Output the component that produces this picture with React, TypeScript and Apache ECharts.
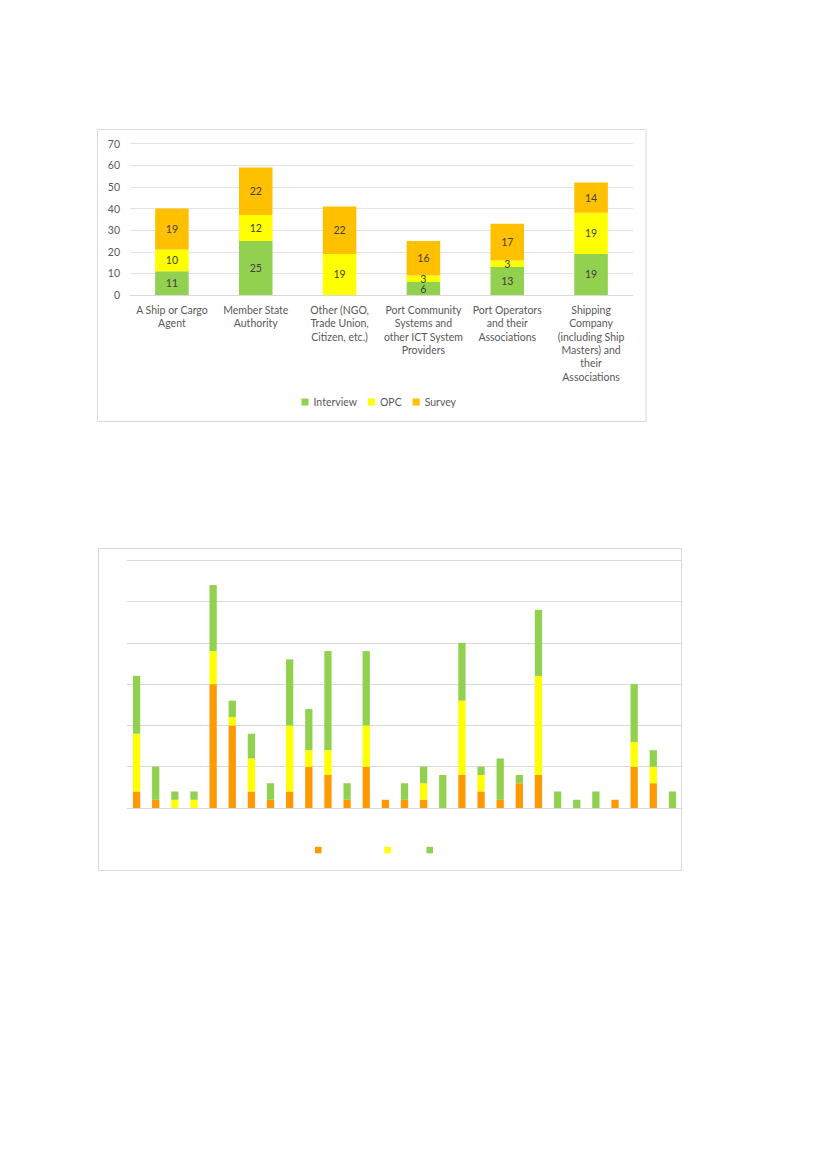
import React, { useEffect, useRef } from "react";
import * as echarts from "echarts";

// ---- Chart 1 data ----
const categories1 = [
  "A Ship or Cargo\nAgent",
  "Member State\nAuthority",
  "Other (NGO,\nTrade Union,\nCitizen, etc.)",
  "Port Community\nSystems and\nother ICT System\nProviders",
  "Port Operators\nand their\nAssociations",
  "Shipping\nCompany\n(including Ship\nMasters) and\ntheir\nAssociations",
];
const interview1 = [11, 25, null, 6, 13, 19];
const opc1 = [10, 12, 19, 3, 3, 19];
const survey1 = [19, 22, 22, 16, 17, 14];
const yTicks1 = { min: 0, max: 70, interval: 10 };

// ---- Chart 2 data ----
const categories2 = [
  "1", "2", "3", "4", "5", "6", "7", "8", "9", "10",
  "11", "12", "13", "14", "15", "16", "17", "18", "19", "20",
  "21", "22", "23", "24", "25", "26", "27", "28", "29",
];
const orange2 = [2, 1, 0, 0, 15, 10, 2, 1, 2, 5, 4, 1, 5, 1, 1, 1, 0, 4, 2, 1, 3, 4, 0, 0, 0, 1, 5, 3, 0];
const yellow2 = [7, 0, 1, 1, 4, 1, 4, 0, 8, 2, 3, 0, 5, 0, 0, 2, 0, 9, 2, 0, 0, 12, 0, 0, 0, 0, 3, 2, 0];
const green2 = [7, 4, 1, 1, 8, 2, 3, 2, 8, 5, 12, 2, 9, 0, 2, 2, 4, 7, 1, 5, 1, 8, 2, 1, 2, 0, 7, 2, 2];
const yTicks2 = { min: 0, max: 30, interval: 5 };

const FONT = "Lato, 'DejaVu Sans', sans-serif";
const GREEN = "#92D050";
const YELLOW = "#FFFF00";
const AMBER = "#FFC000";
const ORANGE = "#FF9900";

export default function App() {
  const ref = useRef<HTMLDivElement>(null);

  useEffect(() => {
    if (!ref.current) return;
    const chart = echarts.init(ref.current, undefined, { renderer: "svg" });

    const label1 = {
      show: true,
      position: "inside",
      color: "#404040",
      fontSize: 10.5,
      fontFamily: FONT,
    };

    const legend2Common = {
      top: 841.8,
      icon: "rect",
      itemWidth: 6.5,
      itemHeight: 6.5,
      formatter: () => "",
      selectedMode: false,
    };

    const option: any = {
      animation: false,
      backgroundColor: "#ffffff",
      textStyle: { fontFamily: FONT },
      graphic: [
        {
          type: "rect",
          silent: true,
          shape: { x: 97.5, y: 129.5, width: 548.5, height: 292 },
          style: { fill: "none", stroke: "#D9D9D9", lineWidth: 1 },
        },
        {
          type: "rect",
          silent: true,
          shape: { x: 98.5, y: 548.5, width: 583, height: 322 },
          style: { fill: "none", stroke: "#D9D9D9", lineWidth: 1 },
        },
      ],
      grid: [
        { left: 130, top: 143.7, width: 503, height: 151.3, containLabel: false },
        { left: 127, top: 560.3, width: 555, height: 247.7, containLabel: false },
      ],
      legend: [
        {
          data: ["Interview", "OPC", "Survey"],
          left: 296.5,
          top: 391.5,
          icon: "rect",
          itemWidth: 7,
          itemHeight: 7,
          itemGap: 11,
          textStyle: { color: "#595959", fontSize: 10.5, fontFamily: FONT },
          selectedMode: false,
        },
        { ...legend2Common, data: ["Survey (chart 2)"], left: 310 },
        { ...legend2Common, data: ["OPC (chart 2)"], left: 379.3 },
        { ...legend2Common, data: ["Interview (chart 2)"], left: 421.5 },
      ],
      xAxis: [
        {
          gridIndex: 0,
          type: "category",
          data: categories1,
          axisLine: { show: true, lineStyle: { color: "#D9D9D9" } },
          axisTick: { show: false },
          axisLabel: {
            interval: 0,
            color: "#595959",
            fontSize: 10.5,
            fontFamily: FONT,
            lineHeight: 13.4,
            margin: 8,
          },
        },
        {
          gridIndex: 1,
          type: "category",
          data: categories2,
          axisLine: { show: true, lineStyle: { color: "#D9D9D9" } },
          axisTick: { show: false },
          axisLabel: { show: false },
        },
      ],
      yAxis: [
        {
          gridIndex: 0,
          type: "value",
          min: yTicks1.min,
          max: yTicks1.max,
          interval: yTicks1.interval,
          axisLine: { show: false },
          axisTick: { show: false },
          axisLabel: { color: "#595959", fontSize: 10.5, fontFamily: FONT, margin: 10 },
          splitLine: { lineStyle: { color: "#E3E3E3", width: 1 } },
        },
        {
          gridIndex: 1,
          type: "value",
          min: yTicks2.min,
          max: yTicks2.max,
          interval: yTicks2.interval,
          axisLine: { show: false },
          axisTick: { show: false },
          axisLabel: { show: false },
          splitLine: { lineStyle: { color: "#D9D9D9", width: 1.2 } },
        },
      ],
      series: [
        {
          name: "Interview",
          type: "bar",
          stack: "c1",
          xAxisIndex: 0,
          yAxisIndex: 0,
          barWidth: "40%",
          data: interview1,
          itemStyle: { color: GREEN },
          label: label1,
        },
        {
          name: "OPC",
          type: "bar",
          stack: "c1",
          xAxisIndex: 0,
          yAxisIndex: 0,
          barWidth: "40%",
          data: opc1,
          itemStyle: { color: YELLOW },
          label: label1,
        },
        {
          name: "Survey",
          type: "bar",
          stack: "c1",
          xAxisIndex: 0,
          yAxisIndex: 0,
          barWidth: "40%",
          data: survey1,
          itemStyle: { color: AMBER },
          label: label1,
        },
        {
          name: "Survey (chart 2)",
          type: "bar",
          stack: "c2",
          xAxisIndex: 1,
          yAxisIndex: 1,
          barWidth: "38%",
          data: orange2,
          itemStyle: { color: ORANGE },
        },
        {
          name: "OPC (chart 2)",
          type: "bar",
          stack: "c2",
          xAxisIndex: 1,
          yAxisIndex: 1,
          barWidth: "38%",
          data: yellow2,
          itemStyle: { color: YELLOW },
        },
        {
          name: "Interview (chart 2)",
          type: "bar",
          stack: "c2",
          xAxisIndex: 1,
          yAxisIndex: 1,
          barWidth: "38%",
          data: green2,
          itemStyle: { color: GREEN },
        },
      ],
    };

    chart.setOption(option);
    return () => chart.dispose();
  }, []);

  return (
    <div
      ref={ref}
      style={{ position: "absolute", left: 0, top: 0, width: 827, height: 1169, background: "#fff" }}
    />
  );
}
